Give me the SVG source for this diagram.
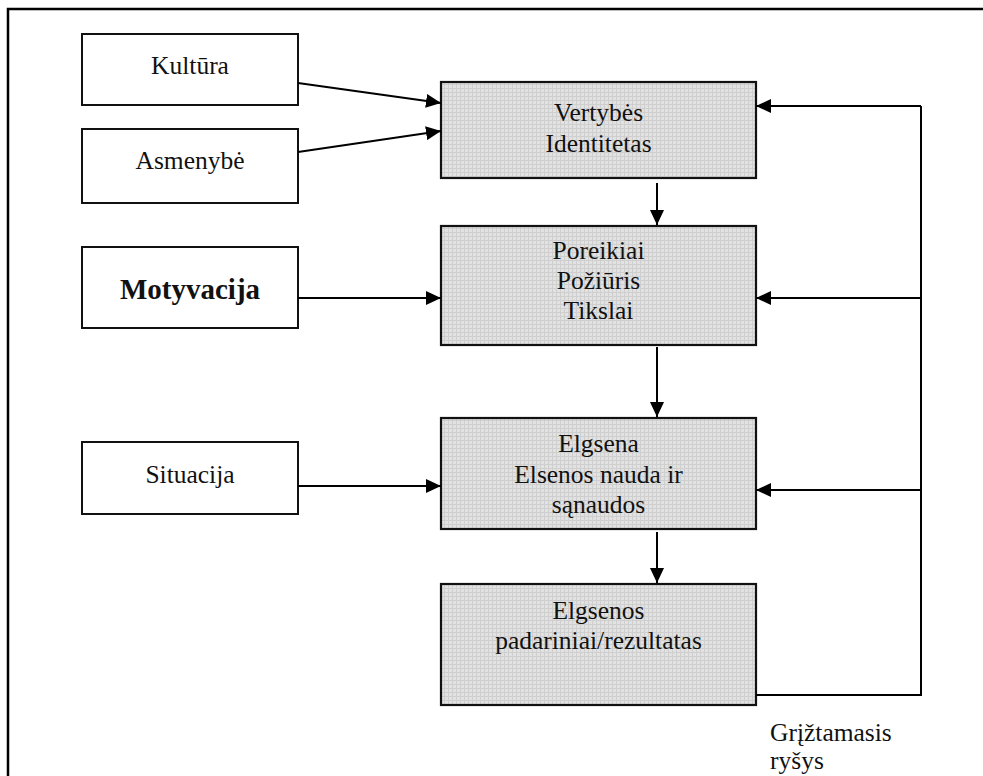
<svg xmlns="http://www.w3.org/2000/svg" width="983" height="776" viewBox="0 0 983 776">
  <defs>
    <!-- fine grid used as the shaded fill of the central column -->
    <pattern id="grid" width="4" height="4" patternUnits="userSpaceOnUse">
      <rect width="4" height="4" fill="#e2e2e2"/>
      <path d="M0 0.5H4M0.5 0V4" stroke="#cfcfcf" stroke-width="1"/>
    </pattern>
    <marker id="arrow" viewBox="0 0 15 14" refX="15" refY="7" markerWidth="15" markerHeight="14" markerUnits="userSpaceOnUse" orient="auto">
      <path d="M0 0L15 7L0 14Z" fill="#000"/>
    </marker>
    <style>
      .frame { fill: none; stroke: #000; stroke-width: 2.5; }
      .box { fill: #fff; stroke: #111; stroke-width: 2; }
      .shaded { fill: url(#grid); stroke: #111; stroke-width: 2.2; }
      .label { font-size: 25.5px; fill: #111; text-anchor: middle; }
      .bold { font-weight: bold; font-size: 29px; }
      .link { fill: none; stroke: #000; stroke-width: 2; }
      .note { font-size: 25.5px; fill: #111; }
    </style>
  </defs>

  <rect width="983" height="776" fill="#fff"/>
  <!-- page frame -->
  <path class="frame" d="M8 790V9H990"/>

  <g font-family="'Liberation Serif', 'Times New Roman', Times, serif">
    <g id="kultura">
      <rect class="box" x="82" y="34" width="216" height="71"/>
      <text class="label" x="190" y="74">Kultūra</text>
    </g>
    <g id="asmenybe">
      <rect class="box" x="82" y="129" width="216" height="74"/>
      <text class="label" x="190" y="169">Asmenybė</text>
    </g>
    <g id="motyvacija">
      <rect class="box" x="82" y="247" width="216" height="81"/>
      <text class="label bold" x="190" y="299">Motyvacija</text>
    </g>
    <g id="situacija">
      <rect class="box" x="82" y="442" width="216" height="72"/>
      <text class="label" x="190" y="483">Situacija</text>
    </g>

    <g id="vertybes">
      <rect class="shaded" x="441" y="82" width="315" height="96"/>
      <text class="label" x="598.5" y="121">Vertybės</text>
      <text class="label" x="598.5" y="152">Identitetas</text>
    </g>
    <g id="poreikiai">
      <rect class="shaded" x="441" y="226" width="315" height="119"/>
      <text class="label" x="598.5" y="259">Poreikiai</text>
      <text class="label" x="598.5" y="289">Požiūris</text>
      <text class="label" x="598.5" y="319">Tikslai</text>
    </g>
    <g id="elgsena">
      <rect class="shaded" x="441" y="418" width="315" height="111"/>
      <text class="label" x="598.5" y="452">Elgsena</text>
      <text class="label" x="598.5" y="483">Elsenos nauda ir</text>
      <text class="label" x="598.5" y="513">sąnaudos</text>
    </g>
    <g id="padariniai">
      <rect class="shaded" x="441" y="584" width="315" height="121"/>
      <text class="label" x="598.5" y="619">Elgsenos</text>
      <text class="label" x="598.5" y="649">padariniai/rezultatas</text>
    </g>

    <g id="feedback-label">
      <text class="note" x="770" y="741">Grįžtamasis</text>
      <text class="note" x="770" y="769">ryšys</text>
    </g>
  </g>

  <g id="connectors">
    <line class="link" x1="298" y1="83" x2="441" y2="103" marker-end="url(#arrow)"/>
    <line class="link" x1="298" y1="152" x2="441" y2="131" marker-end="url(#arrow)"/>
    <line class="link" x1="298" y1="298" x2="441" y2="298" marker-end="url(#arrow)"/>
    <line class="link" x1="298" y1="486" x2="441" y2="486" marker-end="url(#arrow)"/>

    <line class="link" x1="657" y1="183" x2="657" y2="225" marker-end="url(#arrow)"/>
    <line class="link" x1="657" y1="347" x2="657" y2="417" marker-end="url(#arrow)"/>
    <line class="link" x1="657" y1="532" x2="657" y2="583" marker-end="url(#arrow)"/>

    <!-- feedback loop -->
    <path class="link" d="M756 695H921V106"/>
    <line class="link" x1="921" y1="106" x2="756" y2="106" marker-end="url(#arrow)"/>
    <line class="link" x1="921" y1="298" x2="756" y2="298" marker-end="url(#arrow)"/>
    <line class="link" x1="921" y1="490" x2="756" y2="490" marker-end="url(#arrow)"/>
  </g>
</svg>
